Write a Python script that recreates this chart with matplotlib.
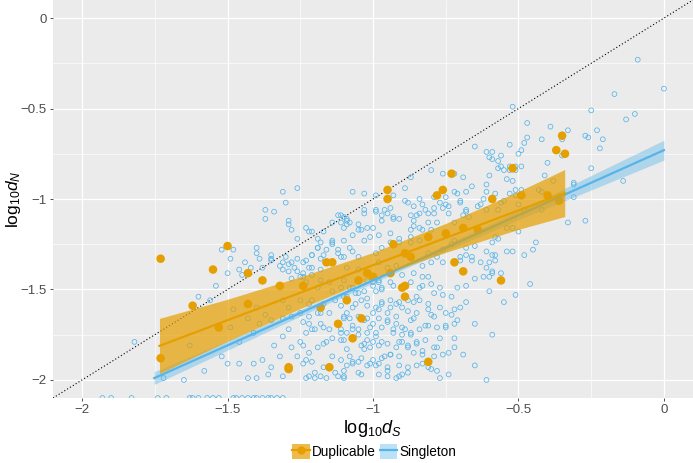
import numpy as np
import matplotlib
matplotlib.use("Agg")
import matplotlib.pyplot as plt
from matplotlib.patches import Patch
from matplotlib.lines import Line2D

plt.rcParams['font.family'] = ['Liberation Sans', 'DejaVu Sans']
plt.rcParams['mathtext.fontset'] = 'custom'
plt.rcParams['mathtext.rm'] = 'Liberation Sans'
plt.rcParams['mathtext.it'] = 'Liberation Sans:italic'

# ---------------- data ----------------
sing_a = [(-1.37, -1.06), (-1.37, -1.11), (-1.34, -1.07), (-1.31, -0.96), (-1.30, -1.02), (-1.26, -0.94),
          (-1.29, -1.12), (-1.29, -1.14), (-1.28, -1.17), (-1.23, -1.16), (-1.22, -1.18), (-1.26, -1.22),
          (-1.19, -1.22), (-1.17, -1.18), (-1.14, -1.13), (-1.12, -1.09), (-1.11, -1.13), (-1.09, -1.14),
          (-1.09, -1.11)]
sing_b = [(-0.09, -0.23), (0.00, -0.39), (-0.17, -0.42), (-0.10, -0.53), (-0.13, -0.56), (-0.25, -0.51),
          (-0.23, -0.62), (-0.27, -0.65), (-0.26, -0.66), (-0.21, -0.67), (-0.22, -0.72), (-0.25, -0.83),
          (-0.14, -0.90), (-0.52, -0.49), (-0.47, -0.58), (-0.39, -0.60), (-0.33, -0.62), (-0.42, -0.67),
          (-0.47, -0.66), (-0.48, -0.69), (-0.53, -0.70), (-0.49, -0.73), (-0.50, -0.75), (-0.35, -0.67),
          (-0.35, -0.76), (-0.40, -0.80), (-0.65, -0.71), (-0.61, -0.74), (-0.59, -0.74), (-0.60, -0.77),
          (-0.59, -0.78), (-0.56, -0.76), (-0.57, -0.79), (-0.56, -0.82), (-0.57, -0.83), (-0.55, -0.84),
          (-0.53, -0.82), (-0.53, -0.84), (-0.51, -0.82), (-0.49, -0.82), (-0.51, -0.84), (-0.60, -0.87),
          (-0.54, -0.89), (-0.61, -0.92), (-0.52, -0.90), (-0.66, -0.93), (-0.61, -0.96), (-0.58, -0.97),
          (-0.53, -0.97), (-0.51, -0.95), (-0.49, -0.95), (-0.41, -0.87), (-0.38, -0.90), (-0.43, -0.95),
          (-0.31, -0.92), (-0.31, -0.99), (-0.33, -1.13), (-0.27, -1.12)]
sing_c = [(-0.80, -0.84), (-0.76, -0.86), (-0.73, -0.86), (-0.72, -0.86), (-0.69, -0.88), (-0.87, -0.88),
          (-0.89, -0.94), (-0.93, -0.98), (-1.07, -0.96), (-1.03, -0.97), (-0.99, -0.98), (-0.89, -1.01),
          (-0.88, -1.02), (-0.84, -1.00), (-0.79, -0.99), (-0.76, -0.95), (-0.72, -0.96), (-0.71, -0.97),
          (-0.68, -0.96), (-0.75, -0.99), (-0.70, -1.01), (-0.70, -1.02), (-0.86, -1.04), (-0.83, -1.03),
          (-0.77, -1.02), (-0.75, -1.03), (-0.74, -1.04), (-0.79, -1.05), (-0.76, -1.05), (-0.96, -1.06),
          (-0.99, -1.07), (-1.03, -1.06), (-1.09, -1.12), (-1.10, -1.10), (-0.95, -1.08), (-0.93, -1.11),
          (-0.91, -1.11), (-1.05, -1.14), (-1.04, -1.17), (-1.00, -1.16), (-0.97, -1.12), (-0.86, -1.12),
          (-0.85, -1.09), (-0.84, -1.08), (-0.81, -1.13), (-0.83, -1.17), (-0.87, -1.17), (-0.80, -1.17),
          (-0.68, -1.07), (-0.67, -1.10), (-0.63, -1.03), (-0.64, -1.04), (-0.61, -1.06), (-0.56, -1.02),
          (-0.55, -1.01), (-0.57, -1.06), (-0.51, -0.98), (-0.50, -1.03), (-0.48, -1.06), (-0.42, -0.96),
          (-0.42, -1.06), (-0.54, -1.16), (-0.57, -1.22), (-0.50, -1.18), (-0.52, -1.16)]
sing_d = [(-0.70, -1.32), (-0.68, -1.31), (-0.66, -1.32), (-0.66, -1.34), (-0.65, -1.26), (-0.63, -1.35),
          (-0.61, -1.29), (-0.59, -1.24), (-0.59, -1.31), (-0.58, -1.31), (-0.58, -1.34), (-0.60, -1.35),
          (-0.61, -1.38), (-0.59, -1.40), (-0.56, -1.41), (-0.60, -1.43), (-0.54, -1.29), (-0.48, -1.31),
          (-0.45, -1.28), (-0.44, -1.24), (-0.58, -1.21), (-0.68, -1.06), (-0.69, -1.09), (-0.62, -1.00),
          (-0.31, -0.91)]
sing_e = [(-0.52, -1.29), (-0.46, -1.47), (-0.51, -1.53), (-0.55, -1.57), (-0.59, -1.75), (-0.61, -2.00),
          (-0.65, -1.92), (-0.65, -1.69), (-0.68, -1.57), (-0.69, -1.86), (-0.71, -1.67), (-0.72, -1.77),
          (-0.74, -1.85), (-0.75, -1.70), (-0.73, -1.64), (-0.70, -1.60), (-0.72, -1.61), (-0.73, -1.54),
          (-0.71, -1.49), (-0.68, -1.48), (-0.65, -1.44), (-0.62, -1.43), (-0.59, -1.41), (-0.60, -1.51),
          (-0.76, -1.53), (-0.79, -1.52), (-0.77, -1.49), (-0.81, -1.43), (-0.80, -1.47), (-0.83, -1.48),
          (-0.83, -1.43), (-0.84, -1.49), (-0.85, -1.54), (-0.84, -1.56), (-0.81, -1.58), (-0.80, -1.64),
          (-0.82, -1.70), (-0.83, -1.84), (-0.78, -1.82), (-0.83, -1.91), (-0.80, -1.94), (-0.77, -1.99),
          (-0.88, -1.96), (-0.90, -1.97), (-0.92, -1.99), (-0.95, -1.95), (-0.95, -1.98), (-0.98, -1.91),
          (-0.96, -1.87), (-0.94, -1.86), (-0.90, -1.79), (-0.92, -1.82), (-0.88, -1.82), (-0.87, -1.75),
          (-0.85, -1.80), (-0.89, -1.72), (-0.93, -1.72), (-0.97, -1.71), (-0.99, -1.76), (-1.00, -1.79),
          (-0.97, -1.79), (-1.01, -1.91), (-1.04, -1.97), (-1.10, -1.99), (-1.07, -1.90), (-1.08, -1.87),
          (-1.05, -1.90), (-1.09, -1.92), (-1.03, -1.83), (-1.02, -1.78), (-1.04, -1.81), (-1.00, -1.69),
          (-1.00, -1.63), (-0.98, -1.61), (-0.95, -1.63), (-0.95, -1.67), (-0.92, -1.65), (-0.90, -1.60),
          (-0.88, -1.62), (-0.86, -1.66), (-0.94, -1.56), (-0.91, -1.57), (-0.97, -1.57), (-0.99, -1.51),
          (-0.97, -1.49), (-0.93, -1.48), (-0.87, -1.46), (-0.90, -1.42), (-0.86, -1.41), (-0.83, -1.37),
          (-0.80, -1.35), (-0.78, -1.32), (-0.76, -1.28), (-0.73, -1.25), (-0.72, -1.23), (-0.68, -1.27),
          (-0.70, -1.34), (-0.76, -1.35), (-0.81, -1.30), (-1.07, -1.49), (-1.05, -1.52), (-1.09, -1.54),
          (-1.07, -1.60), (-1.06, -1.58), (-1.08, -1.66), (-1.10, -1.65), (-1.07, -1.72), (-1.09, -1.74),
          (-1.11, -1.78), (-1.05, -1.72), (-1.02, -1.66), (-1.04, -1.56), (-1.02, -1.55), (-1.00, -1.46),
          (-0.98, -1.45), (-1.02, -1.45), (-1.05, -1.39), (-0.98, -1.35), (-0.95, -1.38), (-0.92, -1.37),
          (-1.10, -1.45)]
sing_f = [(-1.24, -1.68), (-1.22, -1.65), (-1.21, -1.72), (-1.23, -1.74), (-1.24, -1.81), (-1.22, -1.85),
          (-1.19, -1.82), (-1.23, -1.89), (-1.21, -1.90), (-1.23, -1.99), (-1.20, -1.99), (-1.18, -1.98),
          (-1.17, -1.93), (-1.14, -1.87), (-1.11, -1.89), (-1.17, -1.80), (-1.14, -1.77), (-1.15, -1.72),
          (-1.18, -1.69), (-1.19, -1.63), (-1.15, -1.63), (-1.13, -1.56), (-1.11, -1.59), (-1.17, -1.58),
          (-1.21, -1.56), (-1.10, -1.66), (-1.11, -1.72), (-1.10, -1.95), (-1.13, -1.96)]
sing_g = [(-1.08, -1.49), (-1.06, -1.52), (-1.03, -1.51), (-1.00, -1.48), (-0.98, -1.46), (-0.97, -1.50),
          (-0.94, -1.46), (-1.02, -1.59), (-0.99, -1.60), (-0.97, -1.58), (-0.94, -1.60), (-0.92, -1.58),
          (-0.88, -1.56), (-0.86, -1.57), (-0.98, -1.66), (-0.95, -1.68), (-0.92, -1.69), (-0.90, -1.71),
          (-0.87, -1.67), (-0.85, -1.63), (-0.81, -1.61), (-0.79, -1.65), (-0.77, -1.60), (-0.75, -1.63),
          (-0.72, -1.69), (-0.75, -1.71), (-0.78, -1.71), (-0.81, -1.70), (-0.84, -1.72), (-0.87, -1.74),
          (-0.90, -1.75), (-0.93, -1.74), (-0.99, -1.74), (-1.02, -1.74), (-1.05, -1.75), (-1.03, -1.80),
          (-1.01, -1.82), (-0.98, -1.81), (-0.95, -1.80), (-0.91, -1.79), (-0.88, -1.81), (-0.85, -1.79),
          (-0.82, -1.78), (-0.79, -1.82), (-0.77, -1.77), (-0.72, -1.82), (-0.76, -1.86), (-0.79, -1.87),
          (-0.83, -1.86), (-0.86, -1.85), (-0.91, -1.87), (-0.94, -1.86), (-0.97, -1.88), (-1.00, -1.89),
          (-1.04, -1.88), (-1.07, -1.91), (-1.02, -1.92), (-0.99, -1.92), (-0.95, -1.93), (-0.91, -1.92),
          (-0.88, -1.93), (-0.85, -1.92), (-0.81, -1.93), (-0.78, -1.95), (-0.74, -1.97), (-0.91, -1.98),
          (-0.98, -1.97), (-1.05, -1.96), (-1.10, -1.98), (-1.09, -1.83), (-1.10, -1.78), (-1.07, -1.70),
          (-1.09, -1.63), (-1.05, -1.65), (-1.03, -1.67), (-1.01, -1.71)]
sing_h = [(-1.82, -1.79), (-1.72, -1.99), (-1.65, -2.00), (-1.58, -1.95), (-1.63, -1.81), (-1.60, -1.54),
          (-1.56, -1.56), (-1.52, -1.28), (-1.48, -1.28), (-1.50, -1.41), (-1.54, -1.48), (-1.46, -1.39),
          (-1.44, -1.35), (-1.42, -1.38), (-1.40, -1.30), (-1.39, -1.33), (-1.38, -1.38), (-1.35, -1.31),
          (-1.35, -1.33), (-1.31, -1.35), (-1.30, -1.32), (-1.28, -1.35), (-1.26, -1.33), (-1.24, -1.35),
          (-1.22, -1.38), (-1.21, -1.31), (-1.18, -1.33), (-1.19, -1.27), (-1.16, -1.28), (-1.12, -1.30),
          (-1.11, -1.32), (-1.14, -1.24), (-1.09, -1.38), (-1.29, -1.40), (-1.28, -1.44), (-1.25, -1.43),
          (-1.23, -1.46), (-1.21, -1.42), (-1.19, -1.49), (-1.18, -1.45), (-1.15, -1.46), (-1.14, -1.51),
          (-1.11, -1.49), (-1.10, -1.54), (-1.48, -1.61), (-1.43, -1.66), (-1.49, -1.71), (-1.40, -1.60),
          (-1.37, -1.64), (-1.35, -1.67), (-1.39, -1.69), (-1.41, -1.74), (-1.46, -1.79), (-1.52, -1.87),
          (-1.50, -1.91), (-1.46, -1.91), (-1.41, -1.91), (-1.38, -1.89), (-1.36, -1.97), (-1.43, -1.99),
          (-1.40, -1.99), (-1.35, -1.93), (-1.31, -1.98), (-1.32, -1.87), (-1.34, -1.81), (-1.31, -1.76),
          (-1.29, -1.72), (-1.28, -1.82), (-1.26, -1.87), (-1.25, -1.79), (-1.24, -1.91), (-1.22, -1.98),
          (-1.20, -1.96), (-1.22, -1.69), (-1.20, -1.72), (-1.28, -1.65), (-1.31, -1.66), (-1.25, -1.63),
          (-1.29, -1.60), (-1.31, -1.56), (-1.25, -1.56), (-1.22, -1.58), (-1.18, -1.63), (-1.17, -1.71),
          (-1.16, -1.79), (-1.11, -1.74), (-1.16, -1.99), (-1.12, -1.98)]
sing_i = [(-1.49, -1.33), (-1.40, -1.27), (-1.35, -1.34), (-1.32, -1.37), (-1.26, -1.40), (-1.29, -1.36),
          (-1.27, -1.38), (-1.31, -1.39), (-1.45, -1.42), (-1.11, -1.09), (-1.21, -1.18), (-1.10, -1.16),
          (-1.08, -1.13), (-1.05, -1.17), (-1.02, -1.16), (-1.03, -1.08), (-0.99, -1.06), (-0.97, -1.09),
          (-0.94, -1.05), (-0.93, -1.10), (-0.87, -1.09), (-0.82, -1.06), (-0.81, -1.08), (-0.79, -1.08),
          (-0.78, -1.13), (-0.74, -1.08), (-0.72, -1.13), (-0.86, -1.15), (-0.84, -1.16), (-0.87, -1.21),
          (-0.91, -1.22), (-0.94, -1.19), (-0.98, -1.20), (-1.01, -1.21), (-1.03, -1.23), (-1.07, -1.20),
          (-1.10, -1.23), (-1.14, -1.23), (-1.18, -1.24), (-1.19, -1.27), (-1.21, -1.31), (-1.17, -1.31),
          (-1.14, -1.25), (-1.12, -1.28), (-1.08, -1.27), (-1.07, -1.29), (-1.10, -1.32), (-1.05, -1.32),
          (-0.99, -1.30), (-0.97, -1.27), (-0.94, -1.24), (-0.91, -1.24), (-0.87, -1.24), (-0.84, -1.23),
          (-1.23, -1.34), (-1.21, -1.38), (-1.24, -1.41), (-1.18, -1.39), (-1.14, -1.35), (-1.24, -1.43)]
# singletons squished onto the lower edge of the panel
sing_floor_x = [-1.93, -1.90, -1.83, -1.74, -1.71, -1.63, -1.62, -1.60, -1.57, -1.55, -1.53,
                -1.48, -1.47, -1.45, -1.43, -1.41, -1.40, -1.38, -1.36, -1.35, -1.33, -1.31]
floor_y = -2.1

dup_pts = [(-1.73, -1.33), (-1.73, -1.88), (-1.50, -1.26), (-1.55, -1.39), (-1.43, -1.41), (-1.38, -1.45),
           (-1.32, -1.48), (-1.62, -1.59), (-1.43, -1.58), (-1.53, -1.71), (-1.24, -1.48), (-1.29, -1.93),
           (-1.29, -1.94), (-1.15, -1.93), (-1.18, -1.60), (-1.12, -1.69), (-1.16, -1.35), (-1.14, -1.35),
           (-1.09, -1.56), (-1.04, -1.66), (-1.07, -1.77), (-0.90, -1.49), (-0.89, -1.48), (-0.89, -1.54),
           (-0.81, -1.90), (-0.93, -1.25), (-0.72, -1.35), (-0.69, -1.40), (-0.56, -1.45), (-0.89, -1.30),
           (-0.87, -1.32), (-1.02, -1.41), (-1.00, -1.43), (-1.05, -1.45), (-0.81, -1.21), (-0.75, -1.19),
           (-0.94, -1.41), (-0.95, -0.95), (-0.95, -1.00), (-0.73, -0.86), (-0.78, -0.98), (-0.76, -0.95),
           (-0.52, -0.83), (-0.49, -0.98), (-0.59, -1.00), (-0.35, -0.65), (-0.37, -0.73), (-0.34, -0.75),
           (-0.40, -0.98), (-0.36, -1.01), (-0.69, -1.16), (-0.64, -1.17)]

# fitted lines and confidence bands
dup_fit_x = [-1.734, -1.5, -1.25, -1.0, -0.75, -0.5, -0.341]
dup_fit_y = [-1.812, -1.670, -1.518, -1.366, -1.215, -1.063, -0.967]
dup_fit_se = [0.152, 0.116, 0.088, 0.070, 0.080, 0.105, 0.130]
sing_fit_x = [-1.752, -1.25, -0.9, -0.5, 0.0]
sing_fit_y = [-1.99, -1.63, -1.378, -1.09, -0.73]
sing_fit_se = [0.035, 0.018, 0.013, 0.025, 0.055]

dup_col = '#E69F00'
sing_col = '#56B4E9'

# ---------------- figure ----------------
fig = plt.figure(figsize=(6.93, 4.63), dpi=100)
ax = fig.add_axes([53 / 693, 65 / 463, 640 / 693, 398 / 463])
ax.set_facecolor('#EBEBEB')
for s in ax.spines.values():
    s.set_visible(False)

ax.set_xlim(-2.1, 0.1)
ax.set_ylim(-2.1, 0.1)
ticks = [-2, -1.5, -1, -0.5, 0]
labels = ['\u22122', '\u22121.5', '\u22121', '\u22120.5', '0']
ax.set_xticks(ticks)
ax.set_xticklabels(labels)
ax.set_yticks(ticks)
ax.set_yticklabels(labels)
ax.set_xticks([-1.75, -1.25, -0.75, -0.25], minor=True)
ax.set_yticks([-1.75, -1.25, -0.75, -0.25], minor=True)
ax.grid(True, which='major', color='white', lw=0.9)
ax.grid(True, which='minor', color='white', lw=0.45)
ax.set_axisbelow(True)
ax.tick_params(which='major', length=2.5, width=0.6, color='#333333',
               labelsize=9.5, labelcolor='#4D4D4D', pad=2)
ax.tick_params(which='minor', length=0)

# y = x reference
ref = np.array([-2.1, 0.1])
ax.plot(ref, ref, ls=(0, (1, 2)), color='black', lw=0.8, zorder=2)

all_sing = sing_a + sing_b + sing_c + sing_d + sing_e + sing_f + sing_g + sing_h + sing_i
sx = [p[0] for p in all_sing] + sing_floor_x
sy = [p[1] for p in all_sing] + [floor_y] * len(sing_floor_x)
ax.scatter(sx, sy, s=12, facecolors='none', edgecolors=sing_col, linewidths=0.55, zorder=3)

dx = [p[0] for p in dup_pts]
dy = [p[1] for p in dup_pts]
ax.scatter(dx, dy, s=38, color=dup_col, edgecolors='none', zorder=4)

# singleton fit
sfx = np.array(sing_fit_x)
sfy = np.array(sing_fit_y)
sse = np.array(sing_fit_se)
ax.fill_between(sfx, sfy - sse, sfy + sse, color=sing_col, alpha=0.4, lw=0, zorder=5)
ax.plot(sfx, sfy, color=sing_col, lw=1.6, zorder=5)

# duplicable fit
dfx = np.array(dup_fit_x)
dfy = np.array(dup_fit_y)
dse = np.array(dup_fit_se)
ax.fill_between(dfx, dfy - dse, dfy + dse, color=dup_col, alpha=0.7, lw=0, zorder=6)
ax.plot(dfx, dfy, color=dup_col, lw=1.6, zorder=6)

ax.set_xlabel(r'$\mathrm{log}_{10}d_S$', fontsize=13, labelpad=1)
ax.set_ylabel(r'$\mathrm{log}_{10}d_N$', fontsize=12.5)
ax.yaxis.set_label_coords(-0.047, 0.5)

handles = [(Patch(facecolor=dup_col, alpha=0.7, lw=0), Line2D([], [], color=dup_col, lw=1.6, marker='o', ms=5)),
           (Patch(facecolor=sing_col, alpha=0.4, lw=0), Line2D([], [], color=sing_col, lw=1.6))]
fig.legend(handles, ['Duplicable', 'Singleton'], loc='center', bbox_to_anchor=(0.54, 0.024),
           ncol=2, frameon=False, fontsize=9.8, handlelength=1.3, handleheight=1.3,
           handletextpad=0.15, columnspacing=0.3, borderaxespad=0)

fig.savefig('out.png', dpi=100)
